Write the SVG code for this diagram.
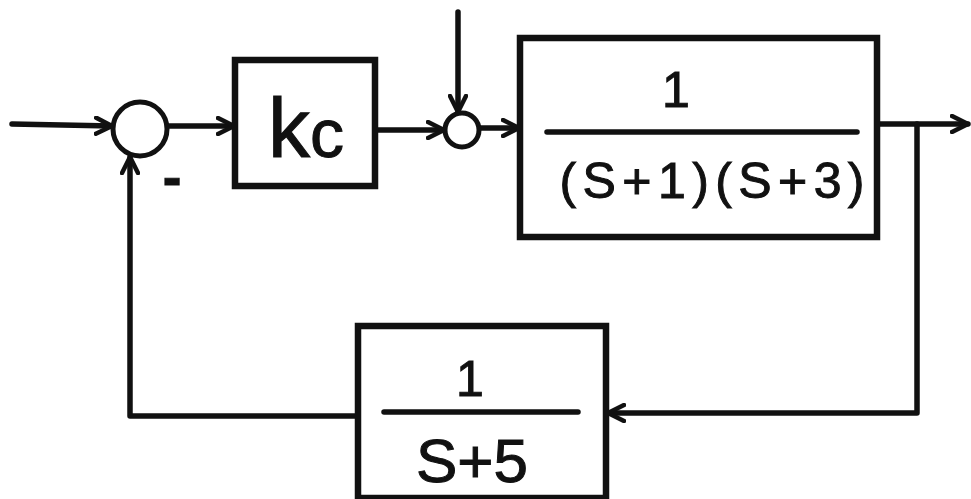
<svg xmlns="http://www.w3.org/2000/svg" width="971" height="499" viewBox="0 0 971 499">
<style>
.ln{fill:none;stroke:#111;stroke-width:5.5;stroke-linecap:round;stroke-linejoin:round}
.bx{fill:none;stroke:#111;stroke-width:6.5}
.sm{fill:#fff;stroke:#111;stroke-width:5}
.tx{font-family:"Liberation Sans",Arial,sans-serif;fill:#111;stroke:#111;stroke-width:1;text-anchor:middle}
</style>
<defs>
<marker id="ah" viewBox="0 0 20 20" refX="18" refY="10" markerWidth="20" markerHeight="20" markerUnits="userSpaceOnUse" orient="auto">
<path d="M2,2 L18,10 L2,18" fill="none" stroke="#111" stroke-width="4.5" stroke-linecap="round" stroke-linejoin="round"/>
</marker>
</defs>
<rect width="971" height="499" fill="#fff"/>
<g id="connectors">
<path class="ln" d="M12,124 L112,126" marker-end="url(#ah)"/>
<path class="ln" d="M167,126 L234,126" marker-end="url(#ah)"/>
<path class="ln" d="M375,130 L444,130" marker-end="url(#ah)"/>
<path class="ln" d="M458,12 L458,112" marker-end="url(#ah)"/>
<path class="ln" d="M479,128 L519,128" marker-end="url(#ah)"/>
<path class="ln" d="M877,124 L968,124" marker-end="url(#ah)"/>
<path class="ln" d="M917,124 L917,413 L608,413" marker-end="url(#ah)"/>
<path class="ln" d="M358,416 L130,416 L130,157" marker-end="url(#ah)"/>
</g>
<g id="sum1">
<circle class="sm" cx="140" cy="129" r="27"/>
<text class="tx" x="172" y="196" font-size="56" font-weight="bold">-</text>
</g>
<g id="kc">
<rect class="bx" x="235" y="60" width="140" height="126"/>
<text class="tx" x="306" y="157" font-size="84">k<tspan font-size="68">c</tspan></text>
</g>
<g id="sum2">
<circle class="sm" cx="462" cy="130" r="17"/>
</g>
<g id="plant">
<rect class="bx" x="520" y="38" width="357" height="199"/>
<text class="tx" x="676" y="107" font-size="50">1</text>
<line class="ln" x1="547" y1="132" x2="857" y2="132"/>
<text class="tx" x="712" y="198" font-size="50" textLength="305" lengthAdjust="spacing">(S+1)(S+3)</text>
</g>
<g id="feedback">
<rect class="bx" x="358" y="326" width="248" height="172"/>
<text class="tx" x="470" y="396" font-size="50">1</text>
<line class="ln" x1="384" y1="412" x2="578" y2="412"/>
<text class="tx" x="472" y="482" font-size="62">S+5</text>
</g>
</svg>
